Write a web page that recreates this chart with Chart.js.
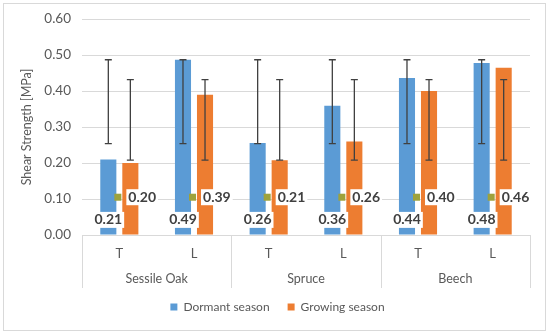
<!DOCTYPE html>
<html>
<head>
<meta charset="utf-8">
<script src="https://cdn.jsdelivr.net/npm/chart.js@4.4.1/dist/chart.umd.min.js"></script>
<style>
  html, body { margin: 0; padding: 0; background: #fff; }
  #wrap { width: 550px; height: 334px; position: relative; }
  #frame { position: absolute; left: 3px; top: 3px; width: 541px; height: 326px; border: 1px solid #d9d9d9; pointer-events: none; }
</style>
</head>
<body>
<div id="wrap">
  <canvas id="chart" width="550" height="334"></canvas>
  <div id="frame"></div>
</div>
<script>
// categories: loading direction, grouped by species
const directions = ['T', 'L', 'T', 'L', 'T', 'L'];
const species = ['Sessile Oak', 'Spruce', 'Beech'];
const yTicks = [0, 0.1, 0.2, 0.3, 0.4, 0.5, 0.6];

// mean shear strength [MPa]
const dormant = [0.21, 0.487, 0.256, 0.359, 0.436, 0.478];
const growing = [0.20, 0.39, 0.208, 0.26, 0.40, 0.465];
const dormantLabels = ['0.21', '0.49', '0.26', '0.36', '0.44', '0.48'];
const growingLabels = ['0.20', '0.39', '0.21', '0.26', '0.40', '0.46'];

// error bar ranges (low, high)
const dormantErrLow = [0.254, 0.254, 0.254, 0.254, 0.254, 0.254];
const dormantErrHigh = [0.487, 0.487, 0.487, 0.487, 0.487, 0.487];
const growingErrLow = [0.208, 0.208, 0.208, 0.208, 0.208, 0.208];
const growingErrHigh = [0.432, 0.432, 0.432, 0.432, 0.432, 0.432];

const FONT = 'Lato, "Open Sans", sans-serif';
const GRAY = '#595959';

// draws error bars, data labels, y title and the two-level category axis
const extras = {
  id: 'extras',
  afterDatasetsDraw(chart) {
    const { ctx, scales: { x, y } } = chart;
    const errs = [[dormantErrLow, dormantErrHigh], [growingErrLow, growingErrHigh]];
    ctx.save();
    errs.forEach(([lo, hi], di) => {
      chart.getDatasetMeta(di).data.forEach((bar, i) => {
        const yl = y.getPixelForValue(lo[i]);
        const yh = y.getPixelForValue(hi[i]);
        ctx.strokeStyle = '#404040';
        ctx.lineWidth = 1.3;
        ctx.beginPath();
        ctx.moveTo(bar.x, yl); ctx.lineTo(bar.x, yh);
        ctx.moveTo(bar.x - 3.5, yl); ctx.lineTo(bar.x + 3.5, yl);
        ctx.moveTo(bar.x - 3.5, yh); ctx.lineTo(bar.x + 3.5, yh);
        ctx.stroke();
      });
    });

    ctx.font = 'bold 14px ' + FONT;
    ctx.textBaseline = 'middle';
    // dormant labels near bottom, centered on bar
    chart.getDatasetMeta(0).data.forEach((bar, i) => {
      const t = dormantLabels[i];
      const w = ctx.measureText(t).width;
      const cy = y.getPixelForValue(0.042);
      ctx.fillStyle = '#fff';
      ctx.fillRect(bar.x - w / 2 - 2, cy - 8, w + 4, 16);
      ctx.fillStyle = '#404040';
      ctx.textAlign = 'center';
      ctx.fillText(t, bar.x, cy);
    });
    // growing labels to the right with a small marker
    chart.getDatasetMeta(1).data.forEach((bar, i) => {
      const t = growingLabels[i];
      const w = ctx.measureText(t).width;
      const cy = y.getPixelForValue(0.105);
      ctx.fillStyle = '#9ea23c';
      ctx.fillRect(bar.x - 16, cy - 3.5, 7, 7);
      ctx.fillStyle = '#fff';
      ctx.fillRect(bar.x - 4, cy - 8, w + 4, 16);
      ctx.fillStyle = '#404040';
      ctx.textAlign = 'left';
      ctx.fillText(t, bar.x - 2, cy);
    });

    // group labels and separators
    const bottom = y.getPixelForValue(0);
    const step = x.getPixelForValue(1) - x.getPixelForValue(0);
    ctx.strokeStyle = '#d9d9d9';
    ctx.lineWidth = 1;
    ctx.beginPath();
    for (let g = 0; g <= species.length; g++) {
      const px = Math.round(x.getPixelForValue(g * 2) - step / 2) + 0.5;
      ctx.moveTo(px, bottom); ctx.lineTo(px, bottom + 53);
    }
    ctx.stroke();
    ctx.font = '12.5px ' + FONT;
    ctx.fillStyle = GRAY;
    ctx.textAlign = 'center';
    species.forEach((s, g) => {
      const cx = (x.getPixelForValue(g * 2) + x.getPixelForValue(g * 2 + 1)) / 2;
      ctx.fillText(s, cx, bottom + 44);
    });

    // y axis title
    ctx.translate(27, (y.top + y.bottom) / 2);
    ctx.rotate(-Math.PI / 2);
    ctx.font = '12.5px ' + FONT;
    ctx.fillText('Shear Strength [MPa]', 0, 0);
    ctx.restore();
  }
};

new Chart(document.getElementById('chart'), {
  type: 'bar',
  data: {
    labels: directions,
    datasets: [
      { label: 'Dormant season', data: dormant, backgroundColor: '#5b9bd5', categoryPercentage: 0.59, barPercentage: 0.73 },
      { label: 'Growing season', data: growing, backgroundColor: '#ed7d31', categoryPercentage: 0.59, barPercentage: 0.73 }
    ]
  },
  options: {
    responsive: false,
    animation: false,
    layout: { padding: { top: 17, left: 25, right: 20, bottom: 11 } },
    plugins: {
      legend: {
        position: 'bottom',
        labels: {
          boxWidth: 7, boxHeight: 7, color: GRAY, padding: 18,
          font: { family: FONT, size: 12 }
        }
      },
      tooltip: { enabled: false }
    },
    scales: {
      x: {
        grid: { display: false, drawTicks: false },
        border: { color: '#d9d9d9' },
        ticks: { color: GRAY, font: { family: FONT, size: 13 }, padding: 11 },
        afterFit: s => { s.height = 48; }
      },
      y: {
        min: 0, max: 0.6,
        afterBuildTicks: s => { s.ticks = yTicks.map(v => ({ value: v })); },
        grid: { color: '#d9d9d9', drawTicks: false },
        border: { display: false },
        ticks: {
          color: GRAY, padding: 11, font: { family: FONT, size: 13.5 },
          callback: v => v.toFixed(2)
        },
        afterFit: s => { s.width = 57; }
      }
    }
  },
  plugins: [extras]
});
</script>
</body>
</html>
